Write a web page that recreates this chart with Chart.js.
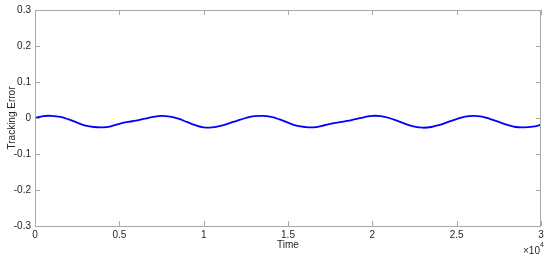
<!DOCTYPE html>
<html>
<head>
<meta charset="utf-8">
<script src="https://cdn.jsdelivr.net/npm/chart.js@4/dist/chart.umd.min.js"></script>
<style>
  html, body { margin: 0; padding: 0; background: #fff; }
  .chart-wrap { width: 550px; height: 258px; position: relative; }
</style>
</head>
<body>
<div class="chart-wrap"><canvas id="grafico"></canvas></div>
<script>
// Datos (tiempo en pasos de 500)
const times = [
  0, 500, 1000, 1500, 2000, 2500, 3000, 3500, 4000, 4500,
  5000, 5500, 6000, 6500, 7000, 7500, 8000, 8500, 9000, 9500,
  10000, 10500, 11000, 11500, 12000, 12500, 13000, 13500, 14000, 14500,
  15000, 15500, 16000, 16500, 17000, 17500, 18000, 18500, 19000, 19500,
  20000, 20500, 21000, 21500, 22000, 22500, 23000, 23500, 24000, 24500,
  25000, 25500, 26000, 26500, 27000, 27500, 28000, 28500, 29000, 29500,
  30000
];
const trackingError = [
  0, 0.0055, 0.006, 0.003, -0.004, -0.013, -0.021, -0.025, -0.026, -0.023,
  -0.016, -0.011, -0.007, -0.002, 0.003, 0.006, 0.004, -0.002, -0.011, -0.020,
  -0.026, -0.026, -0.022, -0.015, -0.007, 0.000, 0.005, 0.006, 0.003, -0.004,
  -0.013, -0.021, -0.025, -0.026, -0.022, -0.016, -0.012, -0.008, -0.003, 0.002,
  0.006, 0.005, 0.000, -0.008, -0.017, -0.024, -0.027, -0.025, -0.019, -0.011,
  -0.003, 0.004, 0.006, 0.004, -0.003, -0.011, -0.019, -0.025, -0.026, -0.024,
  -0.019
];
const xTicks = [0, 5000, 10000, 15000, 20000, 25000, 30000];
const yTicks = [-0.3, -0.2, -0.1, 0, 0.1, 0.2, 0.3];

const axisColor = '#a8a8a8';
const textColor = '#262626';
const font = { family: 'Liberation Sans, Arial, sans-serif', size: 10 };

// Caja estilo MATLAB con marcas hacia dentro y el exponente ×10^4
const boxPlugin = {
  id: 'matlabBox',
  afterDraw(c) {
    const { ctx, chartArea: a, scales } = c;
    ctx.save();
    ctx.strokeStyle = axisColor;
    ctx.lineWidth = 1;
    ctx.strokeRect(a.left + 0.5, a.top + 0.5, a.right - a.left - 1, a.bottom - a.top);
    ctx.beginPath();
    xTicks.forEach(v => {
      const px = Math.round(scales.x.getPixelForValue(v)) + 0.5;
      ctx.moveTo(px, a.bottom); ctx.lineTo(px, a.bottom - 5);
      ctx.moveTo(px, a.top); ctx.lineTo(px, a.top + 5);
    });
    yTicks.forEach(v => {
      const py = Math.round(scales.y.getPixelForValue(v)) + 0.5;
      ctx.moveTo(a.left, py); ctx.lineTo(a.left + 5, py);
      ctx.moveTo(a.right, py); ctx.lineTo(a.right - 5, py);
    });
    ctx.stroke();
    ctx.fillStyle = textColor;
    ctx.textBaseline = 'alphabetic';
    ctx.font = '10px ' + font.family;
    ctx.fillText('\u00d710', 523, 254);
    ctx.font = '7px ' + font.family;
    ctx.fillText('4', 540, 247);
    ctx.restore();
  }
};

const ctx = document.getElementById('grafico').getContext('2d');
new Chart(ctx, {
  type: 'line',
  data: {
    datasets: [{
      data: times.map((t, i) => ({ x: t, y: trackingError[i] })),
      borderColor: '#0000ff',
      borderWidth: 1.8,
      pointRadius: 0,
      tension: 0.4,
      fill: false
    }]
  },
  options: {
    responsive: true,
    maintainAspectRatio: false,
    animation: false,
    layout: { padding: { left: 0, right: 9, top: 10, bottom: 0 } },
    plugins: { legend: { display: false }, tooltip: { enabled: false } },
    scales: {
      x: {
        type: 'linear',
        min: 0, max: 30000,
        afterFit: s => { s.height = 32; },
        afterBuildTicks: s => { s.ticks = xTicks.map(v => ({ value: v })); },
        grid: { display: false, drawTicks: false },
        border: { display: false },
        ticks: {
          color: textColor, font, padding: 3, maxRotation: 0,
          callback: v => String(v / 10000)
        },
        title: { display: true, text: 'Time', color: textColor, font, padding: { top: 0, bottom: 7 } }
      },
      y: {
        min: -0.3, max: 0.3,
        afterFit: s => { s.width = 35; },
        afterBuildTicks: s => { s.ticks = yTicks.map(v => ({ value: v })); },
        grid: { display: false, drawTicks: false },
        border: { display: false },
        ticks: {
          color: textColor, font, padding: 4,
          callback: v => String(Math.round(v * 10) / 10)
        },
        title: { display: true, text: 'Tracking Error', color: textColor, font, padding: { top: 6, bottom: 0 } }
      }
    }
  },
  plugins: [boxPlugin]
});
</script>
</body>
</html>
